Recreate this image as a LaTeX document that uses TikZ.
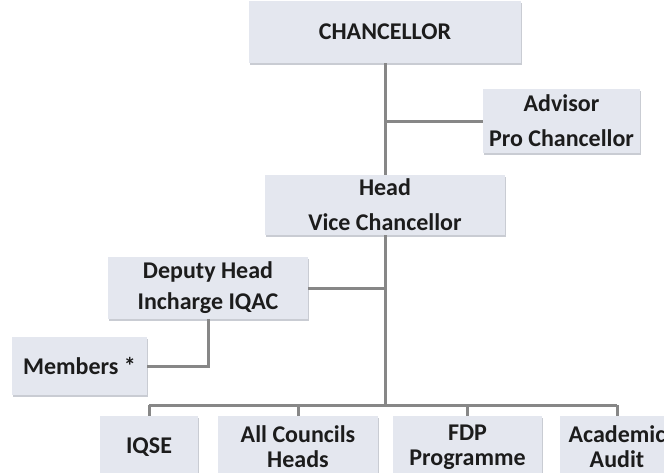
\documentclass[tikz,border=0pt]{standalone}
\usepackage{fontspec}
\setmainfont{Carlito}
\usepackage{tikz}
\usetikzlibrary{positioning}
\usetikzlibrary{shadows}
\usepackage{xcolor}
\definecolor{boxfill}{HTML}{E4E7EF}
\definecolor{boxshade}{HTML}{C9CCD3}
\definecolor{linegray}{HTML}{878787}
\definecolor{txt}{HTML}{1C1C1C}

\begin{document}
\begin{tikzpicture}[x=0.5pt, y=-0.5pt,
	office/.style={fill=boxfill, draw=none, align=center, text=txt,
		font=\fontsize{12}{17.5}\selectfont\bfseries, inner sep=0pt,
		drop shadow={shadow xshift=0.6pt, shadow yshift=-1.2pt, fill=boxshade, opacity=1}},
	unit/.style={office, font=\fontsize{12}{12.5}\selectfont\bfseries, minimum height=31pt},
	conn/.style={draw=linegray, line width=1.5pt}]
				    		\useasboundingbox (0, 0) rectangle (664, 472);
				    		\clip (0, 0) rectangle (664, 472);
				    		\node[office, minimum width=136pt, minimum height=31pt] (chancellor) at (385, 32) {CHANCELLOR};
				    		\node[office, minimum width=78.5pt, minimum height=32pt] (advisor) at (561.5, 121) {Advisor\\Pro Chancellor};
				    		\node[office, minimum width=120pt, minimum height=30pt] (head) at (385, 205) {Head\\Vice Chancellor};
				    		\node[office, minimum width=100pt, minimum height=31pt, font=\fontsize{12}{15.5}\selectfont\bfseries] (deputy) at (208, 288) {Deputy Head\\Incharge IQAC};
				    		\node[office, minimum width=67.5pt, minimum height=29pt] (members) at (79.5, 366) {Members *};
				    		\node[unit, minimum width=49pt] (iqse) at (149, 447) {IQSE};
				    		\node[unit, minimum width=80pt] (councils) at (298, 447) {All Councils\\Heads};
				    		\node[unit, minimum width=74.5pt] (fdp) at (467.5, 447) {FDP\\Programme};
				    		\node[unit, minimum width=57pt] (academic) at (617, 447) {Academic\\Audit};
				    		\coordinate (bus) at (385, 405);
				    		\draw[conn] (chancellor) -- (head);
				    		\draw[conn] (advisor.west) -- (advisor.west -| chancellor.south);
				    		\draw[conn] (head) -- (bus);
				    		\draw[conn] (deputy.east) -- (deputy.east -| head.south);
				    		\draw[conn] (deputy.south) |- (members.east);
				    		\draw[conn] (iqse.north |- bus) -- (academic.north |- bus);
				    		\foreach \n in {iqse, councils, fdp, academic}
				    			\draw[conn] (\n.north |- bus) -- (\n.north);
				    	\end{tikzpicture}
\end{document}
